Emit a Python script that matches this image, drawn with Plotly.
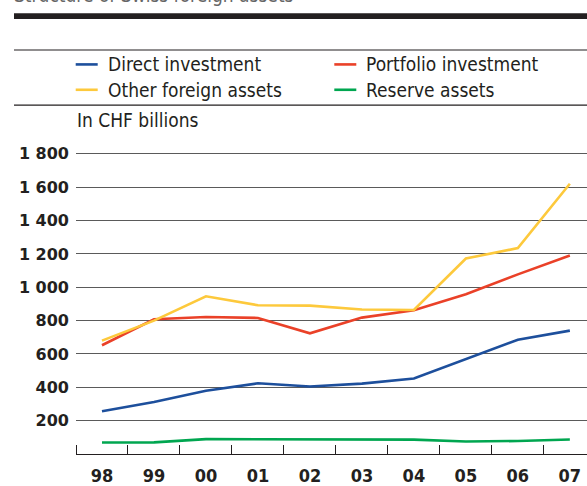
import plotly.graph_objects as go

years = ["98", "99", "00", "01", "02", "03", "04", "05", "06", "07"]
direct_investment = [256, 312, 379, 424, 405, 422, 453, 570, 685, 740]
portfolio_investment = [652, 808, 822, 816, 724, 818, 862, 958, 1077, 1190]
other_foreign_assets = [680, 800, 946, 892, 890, 867, 864, 1172, 1235, 1621]
reserve_assets = [69, 70, 89, 89, 87, 87, 86, 75, 78, 87]

series_names = ["Direct investment", "Portfolio investment", "Other foreign assets", "Reserve assets"]
series_values = [direct_investment, portfolio_investment, other_foreign_assets, reserve_assets]
series_colors = ["#1d4f9c", "#ea4128", "#fdc93c", "#00a650"]

y_tickvals = [200, 400, 600, 800, 1000, 1200, 1400, 1600, 1800]
y_ticktext = ["200", "400", "600", "800", "1 000", "1 200", "1 400", "1 600", "1 800"]

FONT = "DejaVu Sans Condensed, Liberation Sans Narrow, DejaVu Sans, sans-serif"
FONT_WIDE = "DejaVu Sans, sans-serif"

W, H = 587, 486
ML, MR, MT, MB = 76, 0, 140, 24
PH = H - MT - MB
PW = W - ML - MR


def py(p):
    return (H - MB - p) / PH


def px(p):
    return (p - ML) / PW


x_idx = list(range(len(years)))

fig = go.Figure()
for name, vals, col in zip(series_names, series_values, series_colors):
    fig.add_trace(go.Scatter(x=x_idx, y=vals, mode="lines", name=name,
                             line=dict(color=col, width=2.6), showlegend=False))

shapes = []
annotations = []

# header rules
shapes.append(dict(type="rect", xref="paper", yref="paper", x0=px(14), x1=px(W + 5),
                   y0=py(16), y1=py(10), fillcolor="#231f20", line=dict(width=0), layer="above"))
for yy in [47.7, 104.3]:
    shapes.append(dict(type="line", xref="paper", yref="paper", x0=px(14), x1=px(W + 5),
                       y0=py(yy), y1=py(yy), line=dict(color="#231f20", width=1.2)))

# partially visible title at top
annotations.append(dict(text="Structure of Swiss foreign assets", xref="paper", yref="paper",
                        x=px(12), y=py(5), xanchor="left", yanchor="bottom", showarrow=False,
                        font=dict(family=FONT, size=19, color="#666666")))

# legend
legend_pos = [(75.7, 62.5), (334.3, 62.5), (75.7, 88.5), (334.3, 88.5)]
for name, col, (lx, ly) in zip(series_names, series_colors, legend_pos):
    shapes.append(dict(type="line", xref="paper", yref="paper", x0=px(lx), x1=px(lx + 22),
                       y0=py(ly), y1=py(ly), line=dict(color=col, width=2.6)))
    annotations.append(dict(text=name, xref="paper", yref="paper", x=px(lx + 30), y=py(ly),
                            xanchor="left", yanchor="middle", showarrow=False,
                            font=dict(family=FONT, size=19, color="#231f20")))

annotations.append(dict(text="In CHF billions", xref="paper", yref="paper", x=px(75), y=py(120),
                        xanchor="left", yanchor="middle", showarrow=False,
                        font=dict(family=FONT, size=19, color="#231f20")))

fig.update_layout(
    width=W, height=H,
    margin=dict(l=ML, r=MR, t=MT, b=MB, pad=0),
    paper_bgcolor="white", plot_bgcolor="white",
    shapes=shapes, annotations=annotations,
    xaxis=dict(range=[-0.5, 9.33], tickvals=x_idx, ticktext=years, ticks="",
               showgrid=False, zeroline=False, showline=True, linecolor="#231f20", linewidth=1.2,
               tickfont=dict(family=FONT, size=18, color="#231f20", weight="bold"),
               ticklabelstandoff=5,
               minor=dict(tickmode="linear", tick0=-0.5, dtick=1, ticks="inside", ticklen=9,
                          tickcolor="#231f20", tickwidth=1.2, showgrid=False),
               fixedrange=True),
    yaxis=dict(range=[0, PH / 0.171], tickvals=y_tickvals, ticktext=y_ticktext, ticks="",
               showgrid=True, gridcolor="#5a5a5a", gridwidth=1.2, zeroline=False, showline=False,
               tickfont=dict(family=FONT_WIDE, size=16, color="#231f20", weight="bold"),
               ticklabelstandoff=6, fixedrange=True),
)

fig.write_html("out.html", config={"displayModeBar": False},
               post_script="document.body.style.margin='0';document.body.style.overflow='hidden';")
